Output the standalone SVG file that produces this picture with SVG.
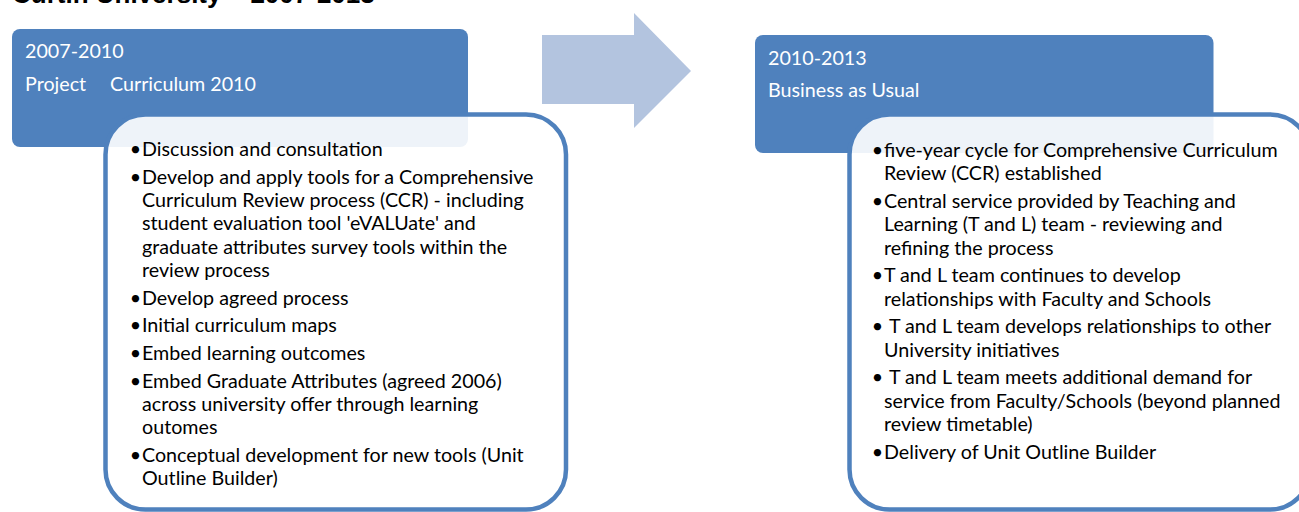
<svg xmlns="http://www.w3.org/2000/svg" width="1299" height="512" viewBox="0 0 1299 512">
<style>
.hdr{fill:#4F81BD}
.box{fill:#FFFFFF;fill-opacity:0.9;stroke:#4F81BD;stroke-width:4.5}
.ht{font-family:Lato,"Liberation Sans",sans-serif;font-size:19.7px;fill:#FFFFFF}
.bt{font-family:Lato,"Liberation Sans",sans-serif;font-size:19.7px;fill:#000000}
.bl{font-family:Lato,"Liberation Sans",sans-serif;font-size:19.7px;fill:#000000;text-anchor:middle}
.title{font-family:"Liberation Sans",Arial,sans-serif;font-size:26px;font-weight:bold;fill:#000000}
</style>
<text class="title" x="12" y="3">Curtin University – 2007-2013</text>
<g id="arrow">
<polygon points="542,35 634,35 634,13 691,71 634,128 634,104 542,104" fill="#B3C4DF"/>
</g>
<g id="node-2007">
<rect class="hdr" x="12" y="29" width="456" height="118" rx="8"/>
<text class="ht" x="25" y="58">2007-2010</text>
<text class="ht" x="25" y="91">Project</text>
<text class="ht" x="110" y="91">Curriculum 2010</text>
</g>
<g id="node-2007-detail">
<rect class="box" x="105.5" y="114.5" width="460.5" height="395" rx="40"/>
<g class="bl">
<text x="135.5" y="156">•</text>
<text x="135.5" y="183.6">•</text>
<text x="135.5" y="304.8">•</text>
<text x="135.5" y="332.4">•</text>
<text x="135.5" y="360">•</text>
<text x="135.5" y="387.6">•</text>
<text x="135.5" y="462">•</text>
</g>
<g class="bt">
<text x="142" y="156">Discussion and consultation</text>
<text x="142" y="183.6">Develop and apply tools for a Comprehensive</text>
<text x="142" y="207">Curriculum Review process (CCR) - including</text>
<text x="142" y="230.4">student evaluation tool 'eVALUate' and</text>
<text x="142" y="253.8">graduate attributes survey tools within the</text>
<text x="142" y="277.2">review process</text>
<text x="142" y="304.8">Develop agreed process</text>
<text x="142" y="332.4">Initial curriculum maps</text>
<text x="142" y="360">Embed learning outcomes</text>
<text x="142" y="387.6">Embed Graduate Attributes (agreed 2006)</text>
<text x="142" y="411">across university offer through learning</text>
<text x="142" y="434.4">outomes</text>
<text x="142" y="462">Conceptual development for new tools (Unit</text>
<text x="142" y="485.4">Outline Builder)</text>
</g>
</g>
<g id="node-2010">
<rect class="hdr" x="755" y="35" width="458.5" height="118" rx="8"/>
<text class="ht" x="768" y="65">2010-2013</text>
<text class="ht" x="768" y="97">Business as Usual</text>
</g>
<g id="node-2010-detail">
<rect class="box" x="849.5" y="114.5" width="460.5" height="395" rx="40"/>
<g class="bl">
<text x="877.5" y="157">•</text>
<text x="877.5" y="208">•</text>
<text x="877.5" y="282.4">•</text>
<text x="877.5" y="333.4">•</text>
<text x="877.5" y="384.4">•</text>
<text x="877.5" y="458.8">•</text>
</g>
<g class="bt">
<text x="884" y="157">five-year cycle for Comprehensive Curriculum</text>
<text x="884" y="180.4">Review (CCR) established</text>
<text x="884" y="208">Central service provided by Teaching and</text>
<text x="884" y="231.4">Learning (T and L) team - reviewing and</text>
<text x="884" y="254.8">refining the process</text>
<text x="884" y="282.4">T and L team continues to develop</text>
<text x="884" y="305.8">relationships with Faculty and Schools</text>
<text x="889" y="333.4">T and L team develops relationships to other</text>
<text x="884" y="356.8">University initiatives</text>
<text x="889" y="384.4">T and L team meets additional demand for</text>
<text x="884" y="407.8">service from Faculty/Schools (beyond planned</text>
<text x="884" y="431.2">review timetable)</text>
<text x="884" y="458.8">Delivery of Unit Outline Builder</text>
</g>
</g>
</svg>
